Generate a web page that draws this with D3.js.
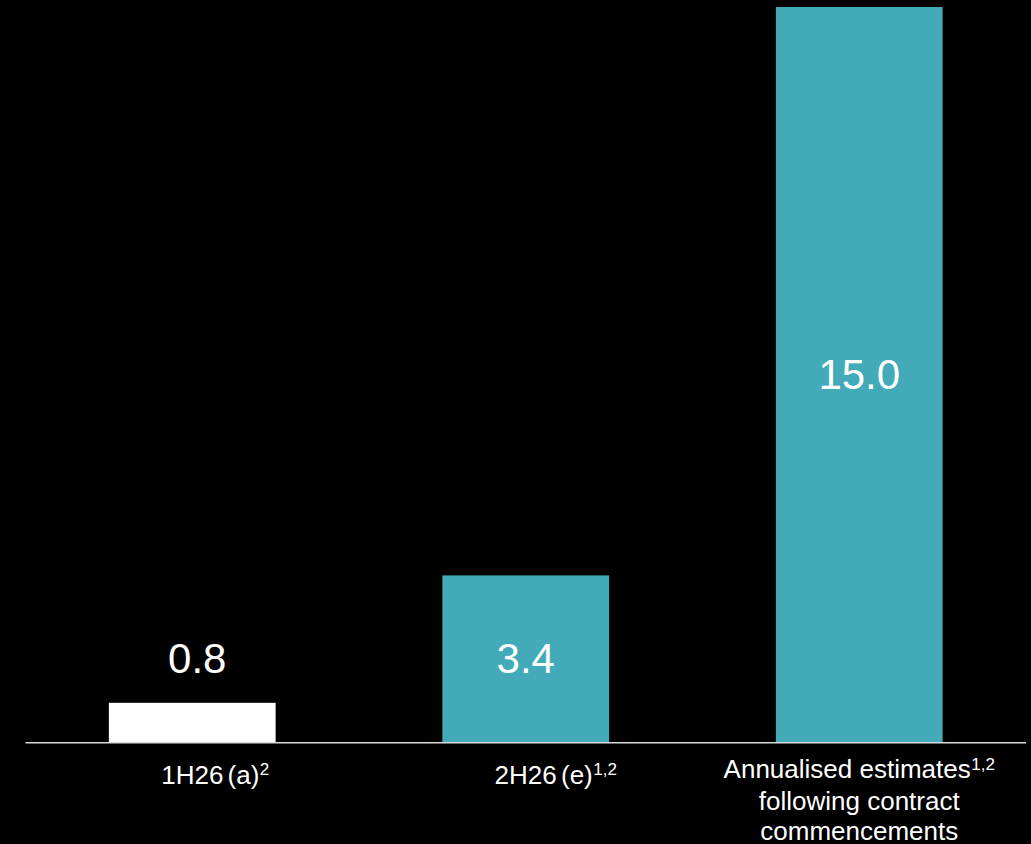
<!DOCTYPE html>
<html>
<head>
<meta charset="utf-8">
<script src="https://cdn.jsdelivr.net/npm/d3@7"></script>
<style>
  html, body { margin: 0; padding: 0; background: #000; }
  svg { display: block; }
  text { font-family: "Liberation Sans", Arial, sans-serif; fill: #fff; }
</style>
</head>
<body>
<script>
// ---- data ----
const categories = ["1H26 (a)", "2H26 (e)", "Annualised estimates following contract commencements"];
const categoryLines = [["1H26 (a)"], ["2H26 (e)"], ["Annualised estimates", "following contract", "commencements"]];
const footnotes = ["2", "1,2", "1,2"];
const values = [0.8, 3.4, 15.0];
const valueLabels = ["0.8", "3.4", "15.0"];
const barColors = ["#FFFFFF", "#42AAB8", "#42AAB8"];

// ---- layout ----
const W = 1031, H = 844;
const baseY = 742, topY = 7;
const catDx = [23, 30, 0];
const valDx = [5, 0, 0];

const svg = d3.select("body").append("svg").attr("width", W).attr("height", H);
svg.append("rect").attr("width", W).attr("height", H).attr("fill", "#000");

const x = d3.scaleBand().domain(categories).range([25.5, 1026]).paddingInner(0.5).paddingOuter(0.25);
const y = d3.scaleLinear().domain([0, 15]).range([baseY, topY]);

// bars
svg.selectAll("rect.bar").data(values).enter().append("rect")
  .attr("class", "bar")
  .attr("x", (d, i) => x(categories[i]))
  .attr("width", x.bandwidth())
  .attr("y", d => y(d))
  .attr("height", d => y(0) - y(d))
  .attr("fill", (d, i) => barColors[i]);

// baseline
svg.append("line")
  .attr("x1", x.range()[0]).attr("x2", x.range()[1])
  .attr("y1", y(0) + 0.8).attr("y2", y(0) + 0.8)
  .attr("stroke", "#D9D9D9").attr("stroke-width", 1.6);

// value labels
svg.selectAll("text.val").data(values).enter().append("text")
  .attr("class", "val")
  .attr("x", (d, i) => x(categories[i]) + x.bandwidth() / 2 + valDx[i])
  .attr("y", (d, i) => i === 0 ? y(d) - 30 : (y(d) + y(0)) / 2 + 14.5)
  .attr("text-anchor", "middle")
  .style("font-size", "42px")
  .text((d, i) => valueLabels[i]);

// category labels
const singleBase = 783.5;
const multiBases = [778, 809.5, 840];
categoryLines.forEach((lines, i) => {
  const cx = x(categories[i]) + x.bandwidth() / 2 + catDx[i];
  lines.forEach((ln, j) => {
    const by = lines.length === 1 ? singleBase : multiBases[j];
    const t = svg.append("text")
      .attr("x", cx).attr("y", by)
      .attr("text-anchor", "middle")
      .style("font-size", "26px")
      .style("word-spacing", lines.length === 1 ? "-3px" : "0px");
    t.append("tspan").text(ln);
    if (j === 0) {
      t.append("tspan")
        .attr("dy", -8.5)
        .attr("dx", 0.5)
        .style("font-size", "17px")
        .text(footnotes[i]);
    }
  });
});
</script>
</body>
</html>
